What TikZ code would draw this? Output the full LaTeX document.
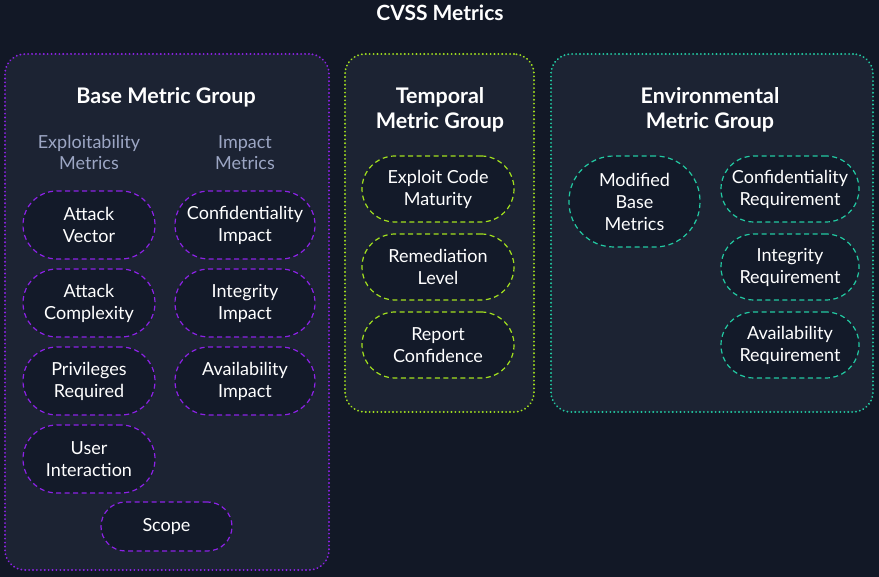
\documentclass[tikz,border=0pt]{standalone}
\usepackage{fontspec}
\setmainfont{Lato}
\definecolor{bgdark}{HTML}{121826}
\definecolor{groupfill}{HTML}{1C2333}
\definecolor{pillfill}{HTML}{131A29}
\definecolor{basepurple}{HTML}{8C22E6}
\definecolor{templime}{HTML}{A2E01E}
\definecolor{envteal}{HTML}{22C9A2}
\definecolor{subgray}{HTML}{9CA6C4}
\tikzset{
  grouptitle/.style={text=white, font=\fontsize{21.5}{25}\selectfont\bfseries, align=center},
  subtitle/.style={text=subgray, font=\fontsize{18}{21}\selectfont, align=center},
  groupbox/.style={draw=#1, fill=groupfill, line width=2pt, rounded corners=20pt,
    dash pattern=on 0.1pt off 3.8pt, line cap=round, inner sep=0pt},
  pill/.style={draw=#1, fill=pillfill, line width=1.2pt, dash pattern=on 5pt off 3.5pt,
    text=white, font=\fontsize{18}{22}\selectfont, align=center, inner sep=0pt,
    minimum height=68pt},
}
\begin{document}
\begin{tikzpicture}[x=1pt,y=-1pt]
  \fill[bgdark] (0,0) rectangle (879,577);
  \node[text=white, font=\fontsize{21}{24}\selectfont\bfseries] (title) at (440,13) {CVSS Metrics};

  % group frames
  \node[groupbox=basepurple, minimum width=324pt, minimum height=516pt] (base) at (167,312) {};
  \node[groupbox=templime, minimum width=189pt, minimum height=358pt] (temporal) at (439.5,233) {};
  \node[groupbox=envteal, minimum width=322pt, minimum height=358pt] (env) at (712,233) {};

  % Base metric group
  \node[grouptitle] (basetitle) at (166,97) {Base Metric Group};
  \node[subtitle] (exploit) at (89,152.5) {Exploitability\\Metrics};
  \node[subtitle] (impact) at (245,152.5) {Impact\\Metrics};
  \begin{scope}[every node/.append style={pill=basepurple, rounded corners=34pt}]
    \node[minimum width=132pt] (av) at (89,225) {Attack\\Vector};
    \node[minimum width=132pt] (ac) at (89,303) {Attack\\Complexity};
    \node[minimum width=132pt] (pr) at (89,381) {Privileges\\Required};
    \node[minimum width=132pt] (ui) at (89,459) {User\\Interaction};
    \node[minimum width=131pt, minimum height=49pt, rounded corners=24.5pt] (scope) at (166.5,526.5) {Scope};
    \node[minimum width=140pt] (ci) at (245,225) {Confidentiality\\Impact};
    \node[minimum width=140pt] (ii) at (245,303) {Integrity\\Impact};
    \node[minimum width=140pt] (ai) at (245,381) {Availability\\Impact};
  \end{scope}

  % Temporal metric group
  \node[grouptitle] (temptitle) at (440,109.5) {Temporal\\Metric Group};
  \begin{scope}[every node/.append style={pill=templime, rounded corners=33pt, minimum width=152pt, minimum height=66pt}]
    \node (ecm) at (438,189) {Exploit Code\\Maturity};
    \node (rl) at (438,267) {Remediation\\Level};
    \node (rc) at (438,345) {Report\\Confidence};
  \end{scope}

  % Environmental metric group
  \node[grouptitle] (envtitle) at (710,109.5) {Environmental\\Metric Group};
  \begin{scope}[every node/.append style={pill=envteal}]
    \node[minimum width=131pt, minimum height=91pt, rounded corners=45pt] (mbm) at (634.5,201.5) {Modified\\Base\\Metrics};
    \node[minimum width=138pt, minimum height=66pt, rounded corners=33pt] (cr) at (790,189) {Confidentiality\\Requirement};
    \node[minimum width=138pt, minimum height=66pt, rounded corners=33pt] (ir) at (790,267) {Integrity\\Requirement};
    \node[minimum width=138pt, minimum height=66pt, rounded corners=33pt] (ar) at (790,345) {Availability\\Requirement};
  \end{scope}
\end{tikzpicture}
\end{document}
